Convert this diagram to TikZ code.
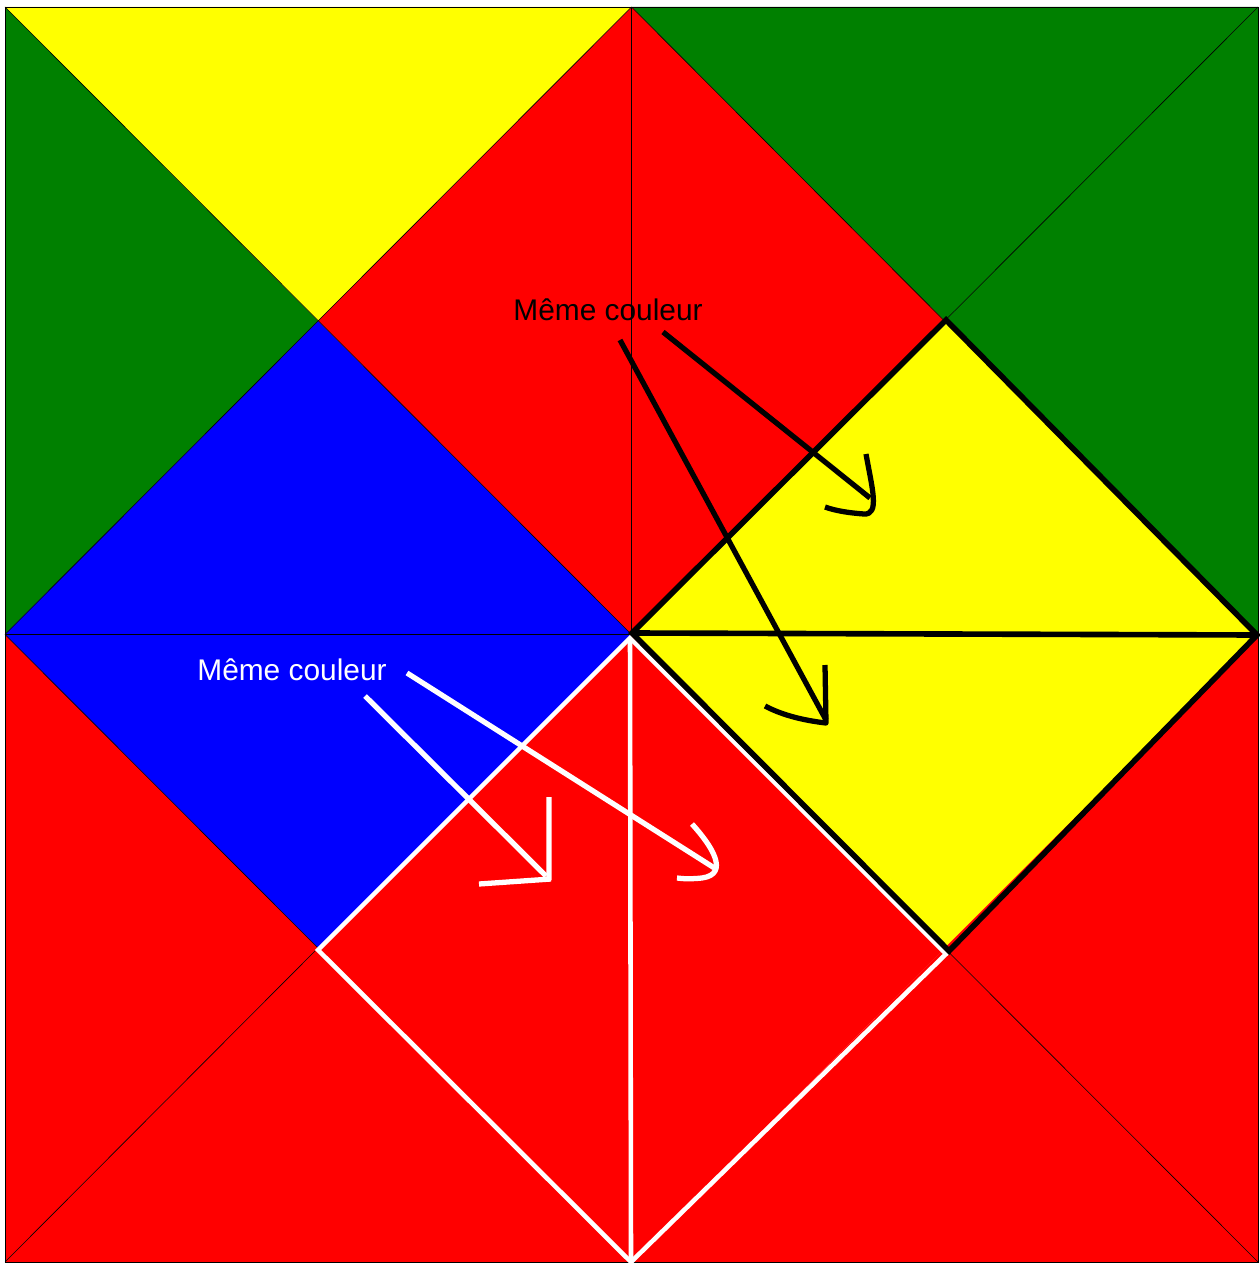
\documentclass[tikz,border=0pt]{standalone}
\usepackage{fontspec}
\setmainfont{Liberation Sans}
\definecolor{vert}{RGB}{0,128,0}
\definecolor{rouge}{RGB}{255,0,0}
\definecolor{bleu}{RGB}{0,0,255}
\definecolor{jaune}{RGB}{255,255,0}
\begin{document}
\begin{tikzpicture}[
  x=0.02cm, y=-0.02cm,
  trait/.style={draw=black, line width=0.35pt},
  noir/.style={draw=black, line width=3.2pt, line join=miter},
  blanc/.style={draw=white, line width=2.6pt, line join=miter},
  fleche/.style={line width=3pt, line join=round},
  lbl/.style={font=\fontsize{17}{20}\selectfont, inner sep=0pt}
]
  \useasboundingbox (0,0) rectangle (1259,1263);

  % Sommets du carre
  \coordinate (A) at (5,7);      \coordinate (B) at (1258,7);
  \coordinate (C) at (1258,1262); \coordinate (D) at (5,1262);
  \coordinate (O) at (631.5,634.5);
  \coordinate (T) at (631.5,7);  \coordinate (R) at (1258,634.5);
  \coordinate (M) at (631.5,1262); \coordinate (L) at (5,634.5);
  \coordinate (q1) at (318,321);   \coordinate (q2) at (944.5,321);
  \coordinate (q3) at (318,948);   \coordinate (q4) at (944.5,948);

  % Triangles
  \foreach \a/\b/\c/\col in {A/T/q1/jaune, A/L/q1/vert, T/O/q1/rouge, L/O/q1/bleu,
                             T/B/q2/vert, B/R/q2/vert, T/O/q2/rouge, O/R/q2/jaune,
                             L/O/q3/bleu, L/D/q3/rouge, O/M/q3/rouge, D/M/q3/rouge,
                             O/R/q4/jaune, O/M/q4/rouge, R/C/q4/rouge, M/C/q4/rouge} {
    \fill[\col] (\a) -- (\b) -- (\c) -- cycle;
  }

  % Traits fins
  \draw[trait] (A) rectangle (C);
  \foreach \a/\b in {A/O, q4/C, B/q2, q3/D, T/O, L/O, T/q2, q3/L, L/T} {
    \draw[trait] (\a) -- (\b);
  }

  % Contours epais
  \draw[blanc] (630,638) -- (318,950) -- (631,1262) -- (946,954) -- cycle;
  \draw[blanc] (630,638) -- (631,1262);
  \draw[noir] (632,633) -- (946,320) -- (1257,635) -- (949,951) -- cycle;
  \draw[noir] (632,633) -- (1257,635);

  % Textes
  \node[lbl] (txtnoir) at (608,310) {Même couleur};
  \node[lbl, text=white] (txtblanc) at (292,670) {Même couleur};

  % Fleches noires
  \coordinate (n1a) at (663,332); \coordinate (n1b) at (870,498);
  \coordinate (n2a) at (620,340); \coordinate (n2b) at (826,720);
  \draw[fleche] (n1a) -- (n1b);
  \draw[fleche] (866,454) .. controls (872,488) and (880,515) .. (864,514)
                         .. controls (850,513) and (836,511) .. (825,507);
  \draw[fleche] (n2a) -- (n2b);
  \draw[fleche] (825,665) -- (826,723) .. controls (800,720) and (780,714) .. (765,706);

  % Fleches blanches
  \coordinate (b1a) at (365,696); \coordinate (b1b) at (546,876);
  \coordinate (b2a) at (407,673); \coordinate (b2b) at (716,869);
  \draw[fleche, white] (b1a) -- (b1b);
  \draw[fleche, white] (549,797) -- (549,880) (479,884) -- (551,879);
  \draw[fleche, white] (b2a) -- (b2b);
  \draw[fleche, white] (692,824) .. controls (712,846) and (730,874) .. (702,878)
                       .. controls (692,879) and (684,879) .. (677,878);
\end{tikzpicture}
\end{document}
